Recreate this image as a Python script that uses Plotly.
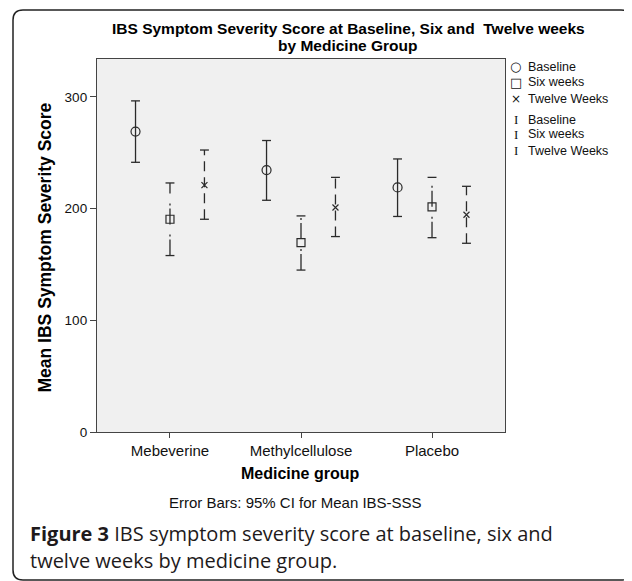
import plotly.graph_objects as go

# ---------------- data ----------------
categories = ["Mebeverine", "Methylcellulose", "Placebo"]
series_names = ["Baseline", "Six weeks", "Twelve Weeks"]

baseline_mean = [269.0, 234.5, 219.0]
baseline_lo = [241.5, 207.5, 193.0]
baseline_hi = [296.5, 261.0, 244.5]

six_mean = [190.5, 169.5, 201.5]
six_lo = [158.0, 145.0, 174.0]
six_hi = [223.0, 193.5, 228.0]

twelve_mean = [221.0, 201.0, 194.5]
twelve_lo = [190.5, 175.0, 169.0]
twelve_hi = [252.5, 228.0, 220.0]

y_tick_vals = [0, 100, 200, 300]

# ---------------- layout geometry ----------------
# the page adds an 8px body margin, so the figure is drawn 8px smaller
# and all screen positions below are window pixels
OFF = 8
WIN_W, WIN_H = 632, 581
FIG_W, FIG_H = WIN_W - OFF, WIN_H - OFF
L, R, T, B = 97, 505, 59, 432          # plot area in window pixels
PW, PH = R - L, B - T


def pxx(x):
    return (x - L) / PW


def pxy(y):
    return (B - y) / PH


INK = "#2a2a2a"
offsets = [-0.263, 0.0, 0.263]
cap_half = 0.034
stem_dash = ["solid", "16px,3px,2px,10px", "10px,6px"]
marker_symbols = ["circle-open", "square-open", "x-thin-open"]
marker_sizes = [9, 8, 6]

series_data = [
    (baseline_mean, baseline_lo, baseline_hi),
    (six_mean, six_lo, six_hi),
    (twelve_mean, twelve_lo, twelve_hi),
]

fig = go.Figure()

for s, (means, los, his) in enumerate(series_data):
    xs = [i + offsets[s] for i in range(len(categories))]
    sx, sy = [], []
    for x, lo, hi in zip(xs, los, his):
        sx += [x, x, None]
        sy += [lo, hi, None]
    fig.add_trace(go.Scatter(x=sx, y=sy, mode="lines", showlegend=False,
                             hoverinfo="skip",
                             line=dict(color=INK, width=1.3, dash=stem_dash[s])))
    cx, cy = [], []
    for x, lo, hi in zip(xs, los, his):
        cx += [x - cap_half, x + cap_half, None, x - cap_half, x + cap_half, None]
        cy += [lo, lo, None, hi, hi, None]
    fig.add_trace(go.Scatter(x=cx, y=cy, mode="lines", showlegend=False,
                             hoverinfo="skip",
                             line=dict(color=INK, width=1.3)))

for s, (means, los, his) in enumerate(series_data):
    xs = [i + offsets[s] for i in range(len(categories))]
    fig.add_trace(go.Scatter(x=xs, y=means, mode="markers", name=series_names[s],
                             showlegend=False,
                             marker=dict(symbol=marker_symbols[s], size=marker_sizes[s],
                                         color=INK, line=dict(color=INK, width=1.2))))

AX_FONT = "Liberation Sans, Arial, sans-serif"

fig.update_layout(
    width=FIG_W, height=FIG_H,
    margin=dict(l=L - OFF, r=FIG_W - (R - OFF), t=T - OFF, b=FIG_H - (B - OFF), pad=0),
    paper_bgcolor="white",
    plot_bgcolor="#f0f0f0",
    font=dict(family=AX_FONT, color="black"),
    showlegend=False,
    xaxis=dict(range=[-0.557, 2.557], tickmode="array",
               tickvals=list(range(len(categories))), ticktext=categories,
               showgrid=False, zeroline=False, showline=True, mirror=True,
               linecolor="#444444", linewidth=1.3,
               ticks="outside", ticklen=5, tickcolor="#444444", tickwidth=1.3,
               tickfont=dict(size=15, family=AX_FONT, color="#111111")),
    yaxis=dict(range=[0, 334], tickmode="array", tickvals=y_tick_vals,
               showgrid=False, zeroline=False, showline=True, mirror=True,
               linecolor="#444444", linewidth=1.3,
               ticks="outside", ticklen=6, tickcolor="#444444", tickwidth=1.3,
               tickfont=dict(size=13.5, family=AX_FONT, color="#111111")),
)

annotations = []
# title (two lines)
title_lines = ["IBS Symptom Severity Score at Baseline, Six and  Twelve weeks",
               "by Medicine Group"]
for txt, yc in zip(title_lines, [28.5, 46.0]):
    annotations.append(dict(text=f"<b>{txt}</b>", x=pxx(348), y=pxy(yc),
                            xref="paper", yref="paper", xanchor="center",
                            yanchor="middle", showarrow=False,
                            font=dict(size=15.5, family=AX_FONT, color="black")))
# axis titles
annotations.append(dict(text="<b>Medicine group</b>", x=pxx(300), y=pxy(473),
                        xref="paper", yref="paper", xanchor="center",
                        yanchor="middle", showarrow=False,
                        font=dict(size=16, family=AX_FONT, color="black")))
annotations.append(dict(text="<b>Mean IBS Symptom Severity Score</b>", x=pxx(44.5),
                        y=pxy(248), xref="paper", yref="paper", xanchor="center",
                        yanchor="middle", textangle=-90, showarrow=False,
                        font=dict(size=17.5, family=AX_FONT, color="black")))
annotations.append(dict(text="Error Bars: 95% CI for Mean IBS-SSS", x=pxx(295.5),
                        y=pxy(503), xref="paper", yref="paper", xanchor="center",
                        yanchor="middle", showarrow=False,
                        font=dict(size=15, family=AX_FONT, color="#111111")))
# legend
legend_symbols = ["○", "□", "×", "I", "I", "I"]
legend_sym_sizes = [13, 13, 12, 13, 13, 13]
legend_texts = series_names + series_names
legend_y = [66.7, 82.3, 99.0, 119.7, 134.3, 150.7]
for sym, ssz, txt, yc in zip(legend_symbols, legend_sym_sizes, legend_texts, legend_y):
    sym_font = "DejaVu Sans, sans-serif" if sym != "I" else "Liberation Serif, serif"
    annotations.append(dict(text=sym, x=pxx(516), y=pxy(yc), xref="paper",
                            yref="paper", xanchor="center", yanchor="middle",
                            showarrow=False,
                            font=dict(size=ssz, family=sym_font, color="#111111")))
    annotations.append(dict(text=txt, x=pxx(526), y=pxy(yc), xref="paper",
                            yref="paper", xanchor="left", yanchor="middle",
                            showarrow=False,
                            font=dict(size=12.5, family=AX_FONT, color="#111111")))
# caption
CAP_FONT = "Open Sans, Noto Sans, sans-serif"
annotations.append(dict(text="<b>Figure 3</b> IBS symptom severity score at baseline, six and",
                        x=pxx(28), y=pxy(533), xref="paper", yref="paper",
                        xanchor="left", yanchor="middle", showarrow=False,
                        font=dict(size=20, family=CAP_FONT, color="#1e1a1b")))
annotations.append(dict(text="twelve weeks by medicine group.",
                        x=pxx(28), y=pxy(560), xref="paper", yref="paper",
                        xanchor="left", yanchor="middle", showarrow=False,
                        font=dict(size=20, family=CAP_FONT, color="#1e1a1b")))
fig.update_layout(annotations=annotations)

# rounded frame around the whole figure (window pixels)
fl, fr, ft, fb, rr = 13, 631, 10, 580, 10


def P(x, y):
    return f"{pxx(x):.5f},{pxy(y):.5f}"


frame_path = (f"M {P(fl + rr, ft)} L {P(fr - rr, ft)} Q {P(fr, ft)} {P(fr, ft + rr)} "
              f"L {P(fr, fb - rr)} Q {P(fr, fb)} {P(fr - rr, fb)} "
              f"L {P(fl + rr, fb)} Q {P(fl, fb)} {P(fl, fb - rr)} "
              f"L {P(fl, ft + rr)} Q {P(fl, ft)} {P(fl + rr, ft)} Z")
fig.add_shape(type="path", path=frame_path, xref="paper", yref="paper",
              line=dict(color="#222222", width=1.5), fillcolor="rgba(0,0,0,0)",
              layer="above")

fig.write_html("out.html")
